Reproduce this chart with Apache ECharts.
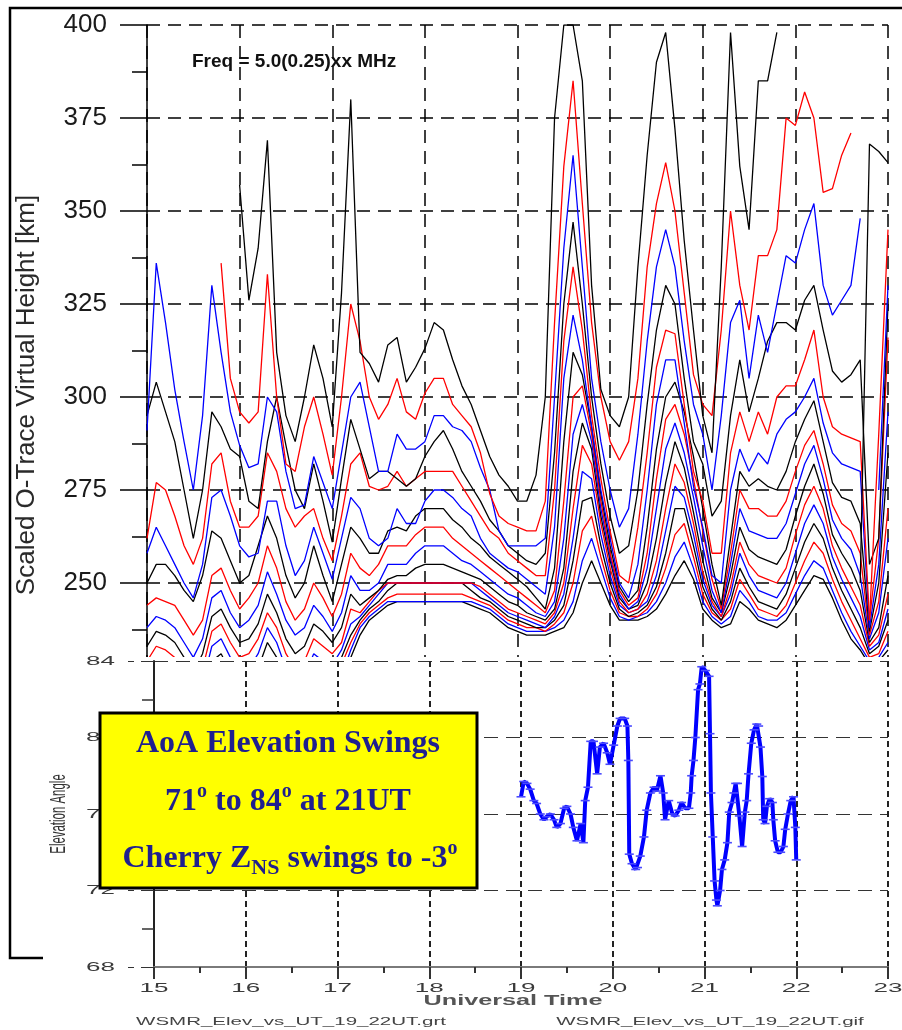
<!DOCTYPE html>
<html>
<head>
<meta charset="utf-8">
<script src="https://cdn.jsdelivr.net/npm/echarts@6/dist/echarts.min.js"></script>
<style>
  html, body { margin: 0; padding: 0; background: #ffffff; }
  #chart { width: 902px; height: 1030px; }
</style>
</head>
<body>
<div id="chart"></div>
<script>
// ---- Sounding times (UT hours) for the O-trace virtual heights ----
const hours = Array.from({ length: 81 }, (_, i) => +(15 + i * 0.1).toFixed(1));

// ---- Scaled O-trace virtual height [km], one array per sounding frequency ----
const h500 = [209,213,212,210,206,202,207,217,219,214, 210,211,215,222,218,211,207,209,215,214, 216,222,230,236,240,242,244,245,245,245, 245,245,245,245,245,244,243,242,240,238, 237,236,236,236,237,238,242,250,256,250, 244,240,240,240,241,243,247,252,256,251, 243,240,238,239,245,243,240,239,238,240, 244,248,252,251,246,240,235,232,228,229, 232];
const h525 = [213,217,216,214,210,206,211,221,223,218, 214,215,219,226,222,215,211,213,219,218, 219,225,232,238,241,243,245,245,245,245, 245,245,245,245,245,245,244,243,241,239, 238,237,237,237,238,240,245,256,262,254, 246,241,240,241,242,245,250,257,261,254, 245,241,239,241,248,245,241,240,240,242, 247,252,256,254,248,242,237,233,229,230, 234];
const h550 = [217,221,220,218,214,210,215,225,227,222, 218,219,223,230,226,219,215,217,223,222, 222,228,234,239,242,244,246,247,247,247, 247,247,247,247,247,246,245,244,242,240, 239,238,238,237,239,242,250,264,268,257, 248,242,241,241,243,247,254,263,266,257, 247,242,240,243,251,247,243,242,241,244, 250,256,261,258,251,245,240,235,230,231, 237];
const h575 = [221,225,224,222,218,214,219,229,231,226, 222,223,227,234,230,223,219,221,227,226, 225,230,236,240,243,245,248,250,250,250, 250,250,250,250,250,248,246,245,243,241, 240,239,238,238,240,244,256,272,273,260, 250,243,241,242,244,249,258,270,270,260, 249,243,240,245,254,249,245,244,243,247, 254,261,266,262,254,248,243,238,231,233, 240];
const h600 = [225,229,228,226,222,218,223,233,235,230, 226,227,231,238,234,227,223,225,231,229, 228,232,239,241,244,247,250,250,250,250, 250,250,250,250,250,250,248,246,244,242, 241,240,239,238,241,247,262,280,278,263, 252,244,242,243,245,252,264,276,273,263, 251,244,241,247,258,252,248,247,246,250, 258,266,271,266,257,251,246,241,232,234, 243];
const h625 = [229,233,232,230,226,222,227,237,239,234, 230,231,235,242,238,231,227,229,235,233, 231,234,243,242,245,248,250,250,250,250, 250,250,250,250,250,250,249,247,245,243, 242,241,240,239,242,250,270,287,282,266, 254,245,242,243,247,256,270,282,277,266, 253,245,241,249,261,255,252,251,250,254, 263,271,276,270,260,254,249,244,233,236, 247];
const h650 = [233,237,236,234,230,226,231,241,243,238, 234,235,239,247,242,235,231,233,239,237, 234,238,247,244,246,248,251,252,252,254, 255,255,255,254,253,252,251,249,247,245, 244,242,241,240,243,254,280,293,286,268, 256,246,243,244,250,262,277,288,281,269, 256,246,242,252,265,259,257,256,255,259, 268,276,282,274,263,258,254,248,234,238, 252];
const h675 = [238,241,240,238,234,230,235,246,248,242, 238,240,244,253,247,240,236,238,244,241, 237,242,252,248,248,250,255,255,255,258, 260,260,260,258,256,255,253,251,249,247, 246,244,242,241,245,262,290,298,288,270, 257,247,243,245,254,270,286,293,285,273, 260,248,242,255,270,264,263,262,262,266, 274,282,287,278,267,262,259,252,235,242, 262];
const h700 = [244,246,245,244,240,236,240,252,254,248, 243,246,250,260,254,245,240,243,250,246, 241,247,258,254,252,255,260,260,260,263, 265,265,265,262,260,258,256,254,252,250, 248,246,244,242,248,272,300,303,290,272, 258,248,244,246,258,278,294,298,290,278, 264,251,243,258,275,270,270,268,268,272, 280,287,291,282,271,266,264,258,236,245, 270];
const h725 = [250,255,255,252,248,245,252,264,262,256, 250,252,260,268,262,252,246,250,260,252, 245,255,265,262,258,258,264,265,264,268, 270,270,270,267,265,262,260,257,255,253, 251,249,246,243,254,288,312,306,292,274, 260,249,245,248,265,286,300,304,296,284, 270,255,244,262,280,276,278,276,275,280, 288,294,299,288,277,273,272,266,237,250, 285];
const h750 = [258,265,260,255,250,246,255,273,275,268, 260,257,258,272,272,260,252,256,265,258, 251,262,273,270,262,260,262,270,266,266, 272,275,275,273,270,268,262,258,256,254, 253,251,249,247,265,305,322,310,292,275, 262,250,246,255,275,298,310,310,293,276, 265,252,250,275,286,280,285,282,290,294, 296,300,305,293,285,282,281,280,238,255, 296];
const h775 = [262,277,275,268,260,255,262,282,285,272, 265,265,268,285,280,270,265,268,270,262, 256,268,282,285,276,275,276,280,276,278, 280,280,280,280,276,272,268,264,262,258, 256,254,252,252,275,315,335,318,295,278, 264,252,250,265,285,308,318,317,298,280, 272,258,258,285,296,288,296,290,300,303, 303,310,318,300,292,290,289,288,240,262, 316];
const h800 = [295,304,296,288,275,262,275,296,292,286, 284,272,270,288,300,287,275,270,282,272, 261,278,294,286,278,280,280,278,276,278, 284,288,291,286,280,276,272,267,264,260, 258,256,255,258,285,325,347,325,300,282, 268,258,260,275,298,318,330,325,305,288, 282,268,272,295,310,296,305,315,320,320, 318,326,330,318,307,304,306,310,255,262, 325];
const h825 = [291,336,320,302,288,275,295,330,312,296, 287,281,282,300,296,280,270,271,284,277, 270,285,300,304,292,280,280,290,286,286, 288,295,295,292,291,288,281,275,264,260, 260,260,260,262,300,340,365,335,305,288, 275,265,270,290,315,335,345,335,315,298, 290,275,295,320,326,305,322,312,325,338, 336,345,352,330,322,326,330,348,null,275, 330];
const h850 = [null,null,null,null,null,null,null,null,336,305, 296,293,296,333,300,282,280,292,300,290, 279,300,325,315,300,294,298,305,296,294, 301,305,305,298,295,292,285,274,268,266, 265,264,264,272,320,362,385,352,320,300, 288,283,288,305,335,352,363,350,328,306, 298,295,318,350,330,318,338,338,345,375, 373,382,375,355,356,365,371,null,240,290, 345];
const h875 = [null,null,null,null,null,null,null,null,null,null, 357,326,340,369,312,295,288,300,314,305, 292,328,380,312,309,304,314,316,304,308, 313,320,318,310,303,298,291,284,279,276, 272,272,279,300,375,400,400,385,330,302, 295,292,300,335,365,390,398,372,342,318, 295,285,335,398,362,345,385,385,398,null, null,null,null,null,null,null,null,250,368,366, 363];

const heightTraces = [
  { freq: '5.00', data: h500, color: '#000000' },
  { freq: '5.25', data: h525, color: '#0000ff' },
  { freq: '5.50', data: h550, color: '#ff0000' },
  { freq: '5.75', data: h575, color: '#000000' },
  { freq: '6.00', data: h600, color: '#0000ff' },
  { freq: '6.25', data: h625, color: '#ff0000' },
  { freq: '6.50', data: h650, color: '#000000' },
  { freq: '6.75', data: h675, color: '#0000ff' },
  { freq: '7.00', data: h700, color: '#ff0000' },
  { freq: '7.25', data: h725, color: '#000000' },
  { freq: '7.50', data: h750, color: '#0000ff' },
  { freq: '7.75', data: h775, color: '#ff0000' },
  { freq: '8.00', data: h800, color: '#000000' },
  { freq: '8.25', data: h825, color: '#0000ff' },
  { freq: '8.50', data: h850, color: '#ff0000' },
  { freq: '8.75', data: h875, color: '#000000' }
];

// ---- AoA elevation angle (deg) vs UT ----
const elevHours = [19.0,19.03,19.065,19.10,19.14,19.17,19.21,19.25,19.28,19.32,19.36,19.39,19.43,19.47,19.50,19.54,19.57,19.61,19.65,19.68,19.70,19.73,19.76,19.79,19.83,19.86,19.90,19.94,19.97,20.01,20.05,20.08,20.13,20.16,20.17,20.18,20.21,20.25,20.27,20.30,20.34,20.37,20.41,20.45,20.48,20.52,20.55,20.57,20.61,20.65,20.68,20.72,20.75,20.79,20.83,20.85,20.86,20.88,20.90,20.93,20.95,20.97,21.01,21.05,21.06,21.07,21.09,21.11,21.13,21.14,21.17,21.19,21.22,21.25,21.27,21.30,21.32,21.34,21.36,21.38,21.41,21.44,21.46,21.48,21.51,21.54,21.57,21.59,21.61,21.63,21.64,21.66,21.68,21.71,21.74,21.75,21.77,21.80,21.83,21.86,21.88,21.91,21.94,21.97,21.99,22.00];
const elevAngles = [76.9,77.7,77.6,77.3,76.7,76.55,76.0,75.7,75.86,76.0,75.7,75.3,75.5,76.3,76.4,76.0,75.3,74.6,75.5,74.5,76.7,77.4,79.8,79.8,78.1,79.5,79.7,79.2,78.6,79.6,80.6,81.0,81.0,80.6,78.8,73.9,73.4,73.1,73.2,73.8,74.8,76.2,77.1,77.4,77.2,78.0,77.1,75.7,76.7,76.0,75.9,76.2,76.6,76.3,76.3,77.1,78.0,78.8,80.0,82.5,82.8,83.7,83.5,83.2,80.2,77.1,74.8,72.5,71.5,71.2,72.0,73.1,73.6,74.5,76.1,76.6,77.1,77.6,77.6,75.9,74.3,76.1,76.7,78.1,79.7,80.4,80.7,80.6,79.5,77.96,75.7,75.5,76.4,76.8,76.6,75.7,74.6,74.0,74.0,74.3,75.2,76.0,76.7,76.9,75.3,73.6];

// ---- Axis ticks / text ----
const utTicks = [15, 16, 17, 18, 19, 20, 21, 22, 23];
const elevTicks = [68, 72, 76, 80, 84];
const heightTitle = 'Scaled O-Trace Virtual Height [km]';
const freqTitle = 'Freq = 5.0(0.25)xx MHz';
const fileLeft = 'WSMR_Elev_vs_UT_19_22UT.grt';
const fileRight = 'WSMR_Elev_vs_UT_19_22UT.gif';

const SANS = 'Liberation Sans, Arial, sans-serif';
const SERIF = 'Liberation Serif, Times New Roman, serif';
const NAVY = '#1f1f8f';

const topDash = [13, 8];

const series = heightTraces.map(t => ({
  name: t.freq + ' MHz',
  type: 'line',
  xAxisIndex: 0,
  yAxisIndex: 0,
  showSymbol: false,
  symbol: 'none',
  connectNulls: false,
  clip: true,
  z: 2,
  lineStyle: { color: t.color, width: 1.3 },
  data: hours.map((h, i) => [h, t.data[i]])
}));

series.push({
  name: 'Elevation',
  type: 'line',
  xAxisIndex: 1,
  yAxisIndex: 1,
  z: 25,
  symbol: 'rect',
  symbolSize: [9, 1.6],
  itemStyle: { color: '#4a4aff' },
  lineStyle: { color: '#0000ff', width: 4 },
  data: elevHours.map((h, i) => [h, elevAngles[i]])
});

const centered = { textAlign: 'center', align: 'center', textVerticalAlign: 'middle', verticalAlign: 'middle' };

const staticGraphics = [
  // lower panel background
  { id: 'cover', type: 'rect', z: 10, silent: true,
    shape: { x: 44, y: 657, width: 858, height: 373 }, style: { fill: '#ffffff' } },
  // outer frame
  { id: 'frame', type: 'polyline', z: 50, silent: true,
    shape: { points: [[43, 958], [10, 958], [10, 8], [902, 8]] },
    style: { stroke: '#000', lineWidth: 2.5, fill: null } },
  // y-axis title of the height panel
  { id: 'hTitle', type: 'text', x: 27, y: 395, rotation: Math.PI / 2, z: 5,
    style: Object.assign({ text: heightTitle, fontSize: 26, fontFamily: SANS, fill: '#2a2a2a' }, centered) },
  { id: 'fTitle', type: 'text', x: 192, y: 62, z: 5,
    style: { text: freqTitle, fontSize: 19, fontWeight: 'bold', fontFamily: SANS, fill: '#111',
      textAlign: 'left', align: 'left', textVerticalAlign: 'middle', verticalAlign: 'middle' } },
  // annotation box
  { id: 'box', type: 'rect', z: 40,
    shape: { x: 100, y: 713, width: 377, height: 175 },
    style: { fill: '#ffff00', stroke: '#000', lineWidth: 3 } },
  { id: 'boxL1', type: 'text', x: 288, y: 744, z: 41,
    style: Object.assign({ text: 'AoA Elevation Swings', fontSize: 32, fontWeight: 'bold', fontFamily: SERIF, fill: NAVY }, centered) },
  { id: 'boxL2', type: 'text', x: 288, y: 802, z: 41,
    style: Object.assign({ text: '71{s|o} to 84{s|o} at 21UT', fontSize: 32, fontWeight: 'bold', fontFamily: SERIF, fill: NAVY,
      lineHeight: 40,
      rich: { s: { fontSize: 20, fontWeight: 'bold', fontFamily: SERIF, fill: NAVY, lineHeight: 27, verticalAlign: 'top' } } }, centered) },
  { id: 'boxL3', type: 'text', x: 290, y: 859, z: 41,
    style: Object.assign({ text: 'Cherry Z{b|NS} swings to -3{s|o}', fontSize: 32, fontWeight: 'bold', fontFamily: SERIF, fill: NAVY,
      lineHeight: 40,
      rich: {
        s: { fontSize: 20, fontWeight: 'bold', fontFamily: SERIF, fill: NAVY, lineHeight: 27, verticalAlign: 'top' },
        b: { fontSize: 22, fontWeight: 'bold', fontFamily: SERIF, fill: NAVY, lineHeight: 16, verticalAlign: 'bottom' }
      } }, centered) },
  // lower panel texts
  { id: 'eTitle', type: 'text', x: 59, y: 814, rotation: Math.PI / 2, scaleX: 0.52, z: 30,
    style: Object.assign({ text: 'Elevation Angle', fontSize: 22, fontFamily: SANS, fill: '#333' }, centered) },
  { id: 'utTitle', type: 'text', x: 513, y: 1001, scaleX: 1.8, z: 30,
    style: Object.assign({ text: 'Universal Time', fontSize: 14, fontWeight: 'bold', fontFamily: SANS, fill: '#555' }, centered) },
  { id: 'fileL', type: 'text', x: 291, y: 1022, scaleX: 2.05, z: 30,
    style: Object.assign({ text: fileLeft, fontSize: 10, fontFamily: SANS, fill: '#444' }, centered) },
  { id: 'fileR', type: 'text', x: 710, y: 1022, scaleX: 2.05, z: 30,
    style: Object.assign({ text: fileRight, fontSize: 10, fontFamily: SANS, fill: '#444' }, centered) }
];

const option = {
  animation: false,
  backgroundColor: '#ffffff',
  grid: [
    { left: 147, top: 25, width: 741, height: 651 },
    { left: 154, top: 661, width: 734, height: 306 }
  ],
  xAxis: [
    { gridIndex: 0, type: 'value', min: 15, max: 23, interval: 1,
      axisLine: { show: false }, axisTick: { show: false }, axisLabel: { show: false },
      splitLine: { show: true, lineStyle: { color: '#000', type: topDash, width: 1.5 } } },
    { gridIndex: 1, type: 'value', min: 15, max: 23, interval: 1, z: 20,
      axisLine: { show: true, onZero: false, lineStyle: { color: '#7a7a7a', width: 2 } },
      axisTick: { show: true, length: 12, lineStyle: { color: '#333', width: 2 } },
      minorTick: { show: true, splitNumber: 2, length: 6, lineStyle: { color: '#333', width: 2 } },
      axisLabel: { show: false },
      splitLine: { show: true, lineStyle: { color: '#222', type: [6, 4], width: 2 } } }
  ],
  yAxis: [
    { gridIndex: 0, type: 'value', min: 225, max: 400, interval: 25,
      axisLine: { show: true, onZero: false, lineStyle: { color: '#000', width: 1.5 } },
      axisTick: { show: true, length: 27, lineStyle: { color: '#000', width: 1.5 } },
      minorTick: { show: true, splitNumber: 2, length: 15, lineStyle: { color: '#000', width: 1.5 } },
      axisLabel: { margin: 40, fontSize: 26, fontFamily: SANS, color: '#1a1a1a' },
      splitLine: { show: true, lineStyle: { color: '#000', type: topDash, width: 1.5 } } },
    { gridIndex: 1, type: 'value', min: 68, max: 84, interval: 4, z: 20,
      axisLine: { show: true, onZero: false, lineStyle: { color: '#222', width: 2 } },
      axisTick: { show: true, length: 26, lineStyle: { color: '#333', type: [13, 7], width: 1 } },
      minorTick: { show: true, splitNumber: 2, length: 12, lineStyle: { color: '#333', width: 1.5 } },
      axisLabel: { show: false },
      splitLine: { show: true, lineStyle: { color: '#333', type: [14, 8], width: 1 } } }
  ],
  series: series,
  graphic: { elements: staticGraphics }
};

const chart = echarts.init(document.getElementById('chart'), null, { renderer: 'canvas' });
chart.setOption(option);

// Tick labels of the lower panel, stretched like the original plotting package
const axisX0 = chart.convertToPixel({ xAxisIndex: 1 }, utTicks[0]);
const axisYBottom = chart.convertToPixel({ yAxisIndex: 1 }, elevTicks[0]);
const labelGraphics = [];
utTicks.forEach(v => {
  labelGraphics.push({
    id: 'ut' + v, type: 'text', z: 30, scaleX: 2,
    x: chart.convertToPixel({ xAxisIndex: 1 }, v), y: axisYBottom + 21,
    style: Object.assign({ text: String(v), fontSize: 13, fontFamily: SANS, fill: '#3a3a3a' }, centered)
  });
});
elevTicks.forEach(v => {
  labelGraphics.push({
    id: 'el' + v, type: 'text', z: 30, scaleX: 2,
    x: axisX0 - 39, y: chart.convertToPixel({ yAxisIndex: 1 }, v),
    style: { text: String(v), fontSize: 13, fontFamily: SANS, fill: '#3a3a3a',
      textAlign: 'right', align: 'right', textVerticalAlign: 'middle', verticalAlign: 'middle' }
  });
});
chart.setOption({ graphic: { elements: labelGraphics } });
</script>
</body>
</html>
